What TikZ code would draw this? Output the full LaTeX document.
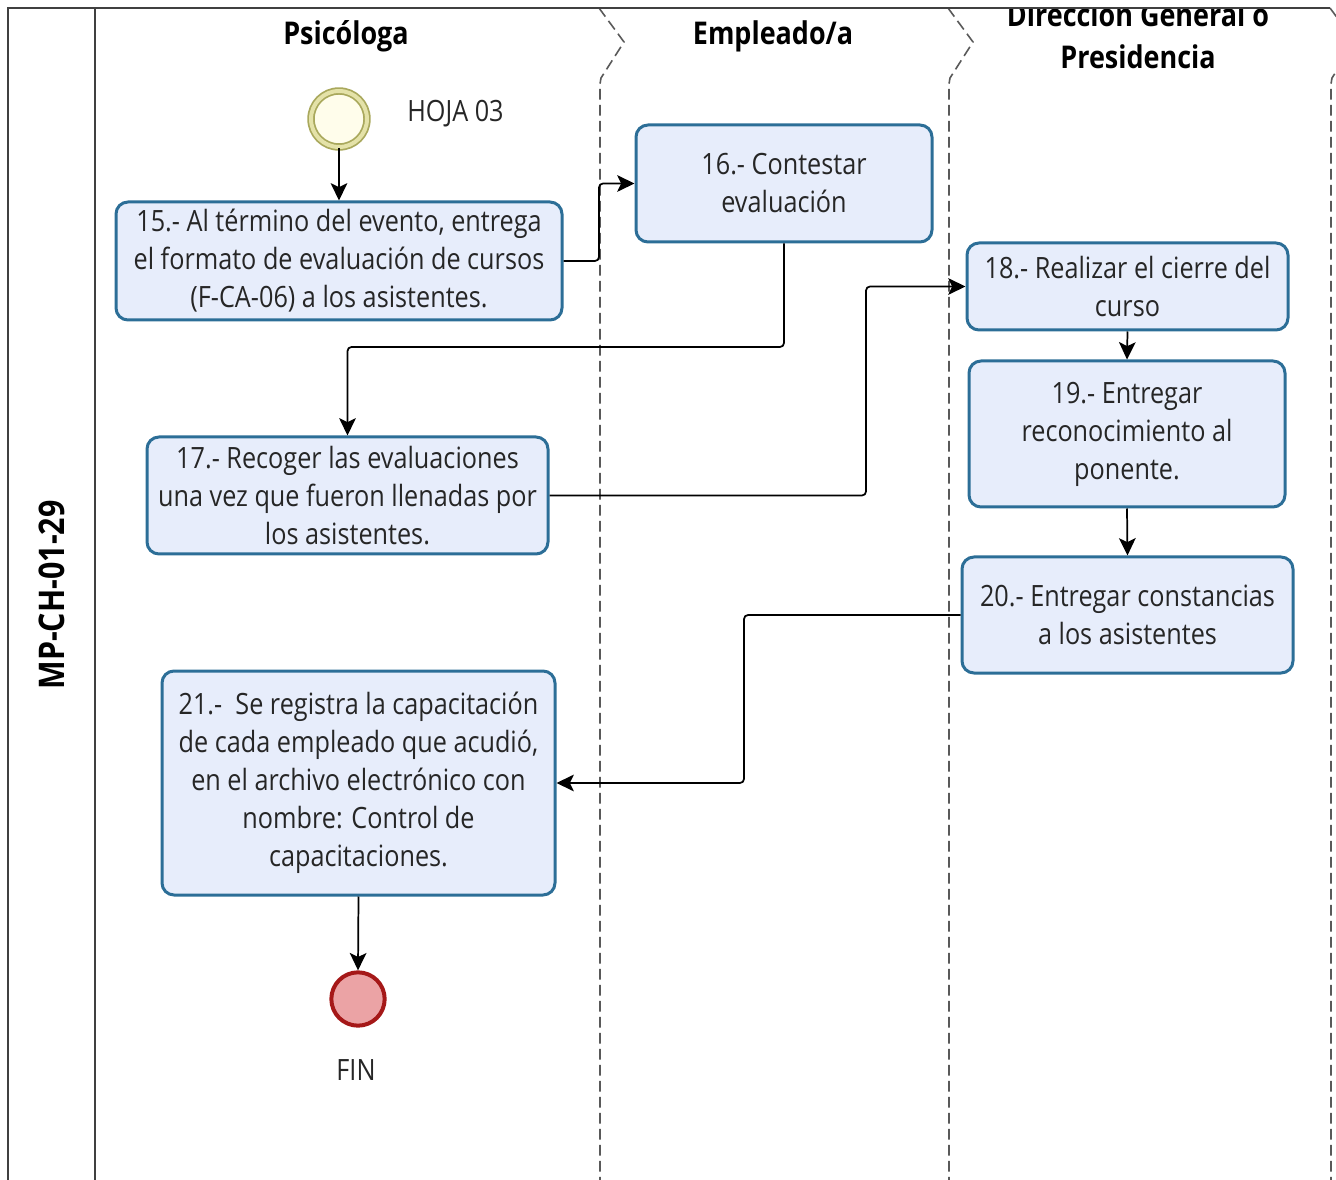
\documentclass[tikz,border=0pt]{standalone}
\usepackage{fontspec}
\setmainfont{Open Sans}
\newfontfamily\boxfont[FakeStretch=0.86]{Open Sans}
\usetikzlibrary{arrows.meta,calc}
\definecolor{boxfill}{HTML}{E7EDFB}
\definecolor{boxline}{HTML}{2C6E97}
\definecolor{startline}{HTML}{A9A85C}
\definecolor{startgap}{HTML}{E4E2A8}
\definecolor{startfill}{HTML}{FFFDEB}
\definecolor{endline}{HTML}{A51818}
\definecolor{endfill}{HTML}{EBA3A5}
\begin{document}
\begin{tikzpicture}[x=0.75pt,y=-0.75pt,
  task/.style={draw=boxline, fill=boxfill, line width=2.25pt, rounded corners=9pt,
    align=center, font=\boxfont\fontsize{22}{28.5}\selectfont, text=black!85, inner sep=0pt},
  flow/.style={draw=black, line width=1.3pt, -{Stealth[length=13pt,width=12.5pt,inset=3pt]}, rounded corners=3pt},
  lanesep/.style={draw=black!65, line width=1.2pt, dash pattern=on 8pt off 4pt},
  poolline/.style={draw=black!75, line width=1.4pt},
  head/.style={font=\boxfont\bfseries\fontsize{23.5}{31.5}\selectfont, align=center, inner sep=0pt},
  plain/.style={font=\boxfont\fontsize{22}{28.5}\selectfont, text=black!85, inner sep=0pt}
]
\useasboundingbox (0,0) rectangle (1336,1180);
\clip (0,0) rectangle (1336,1180);

% lane separators with chevrons
\foreach \X in {599,948,1330}{
  \draw[lanesep] (\X,8) -- (\X+25,42) -- (\X+2,78) -- (\X+1,84) -- (\X+1,1180);
}

% headers (clipped by the pool's top edge)
\begin{scope}
  \clip (0,8.5) rectangle (1336,1180);
  \node[head] (hpsi) at (346,36) {Psicóloga};
  \node[head] (hemp) at (773,36) {Empleado/a};
  \node[head] (hdir) at (1138,36) {Dirección General o\\Presidencia};
\end{scope}
\node[head, rotate=90, font=\boxfont\bfseries\fontsize{26.5}{30}\selectfont] (pid) at (52,595) {MP-CH-01-29};

% pool frame
\draw[poolline] (8,1180) -- (8,8) -- (1330,8);
\draw[poolline] (95,8) -- (95,1180);

% events
\node[circle, minimum size=42pt, inner sep=0pt, draw=startline, line width=1.3pt,
      double=startgap, double distance=3pt, fill=startfill] (start) at (339,119) {};
\node[plain, anchor=west] (hoja) at (407,114) {HOJA 03};
\node[circle, minimum size=40pt, inner sep=0pt, draw=endline, line width=3pt, fill=endfill] (fin) at (358,999) {};
\node[plain] (fintxt) at (356,1070) {FIN};

% tasks
\node[task, minimum width=334.5pt, minimum height=88.5pt] (b15) at (339,261)
  {15.- Al término del evento, entrega\\el formato de evaluación de cursos\\(F-CA-06) a los asistentes.};
\node[task, minimum width=222pt, minimum height=87.75pt] (b16) at (784,183.5)
  {16.- Contestar\\evaluación};
\node[task, minimum width=300.75pt, minimum height=87.75pt] (b17) at (347.5,495.5)
  {17.- Recoger las evaluaciones\\una vez que fueron llenadas por\\los asistentes.};
\node[task, minimum width=240.75pt, minimum height=65.25pt] (b18) at (1127.5,286.5)
  {18.- Realizar el cierre del\\curso};
\node[task, minimum width=237pt, minimum height=109.5pt] (b19) at (1127,434)
  {19.- Entregar\\reconocimiento al\\ponente.};
\node[task, minimum width=248.25pt, minimum height=87pt] (b20) at (1127.5,615)
  {20.- Entregar constancias\\a los asistentes};
\node[task, minimum width=294.75pt, minimum height=168pt] (b21) at (358.5,783)
  {21.-\ \ Se registra la capacitación\\de cada empleado que acudió,\\en el archivo electrónico con\\nombre: Control de\\capacitaciones.};

% bend coordinates
\coordinate (jA) at (599,0);
\coordinate (jB) at (0,347);
\coordinate (jC) at (866,0);
\coordinate (jD) at (744,0);

% connectors
\draw[flow] (start.south) -- (b15.north);
\draw[flow] (b15.east) -- (b15.east -| jA) |- (b16.west);
\draw[flow] (b16.south) |- (b17.north |- jB) -- (b17.north);
\draw[flow] (b17.east) -- (b17.east -| jC) |- (b18.west);
\draw[flow] (b18.south) -- (b19.north);
\draw[flow] (b19.south) -- (b20.north);
\draw[flow] (b20.west) -- (b20.west -| jD) |- (b21.east);
\draw[flow] (b21.south) -- (fin.north);
\end{tikzpicture}
\end{document}
